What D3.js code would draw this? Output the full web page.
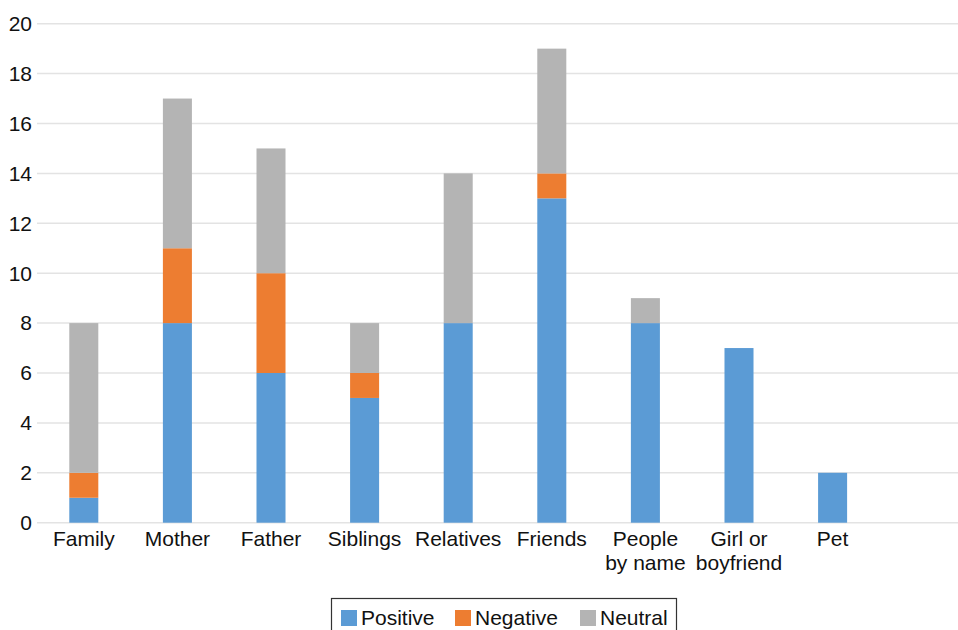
<!DOCTYPE html>
<html><head><meta charset="utf-8">
<script src="https://cdn.jsdelivr.net/npm/d3@7"></script>
<style>body{margin:0;background:#fff}svg{display:block;font-family:"Liberation Sans",Arial,sans-serif}</style>
</head><body><svg id="c" width="958" height="630"></svg>
<script>
const categories = ["Family","Mother","Father","Siblings","Relatives","Friends","People\nby name","Girl or\nboyfriend","Pet",""];
const positive = [1,8,6,5,8,13,8,7,2,0];
const negative = [1,3,4,1,0,1,0,0,0,0];
const neutral  = [6,6,5,2,6,5,1,0,0,0];
const seriesNames = ["Positive","Negative","Neutral"];
const colors = ["#5b9bd5","#ed7d31","#b4b4b4"];
const yTicks = [0,2,4,6,8,10,12,14,16,18,20];

const svg = d3.select("#c");
const x = d3.scaleBand().domain(categories).range([37, 973]).paddingInner(0.69).paddingOuter(0.345);
const y = d3.scaleLinear().domain([0,20]).range([522.7, 23.7]);

// gridlines
svg.append("g").selectAll("line").data(yTicks).join("line")
  .attr("x1",37).attr("x2",958).attr("y1",d=>y(d)).attr("y2",d=>y(d))
  .attr("stroke","#e3e3e3").attr("stroke-width",1.5);

// y labels
svg.append("g").selectAll("text").data(yTicks).join("text")
  .attr("x",32).attr("y",d=>y(d)).attr("dy","0.35em").attr("text-anchor","end")
  .attr("font-size",21).attr("fill","#111").text(d=>d);

// stacked data
const rows = categories.map((c,i)=>({cat:c, Positive:positive[i], Negative:negative[i], Neutral:neutral[i]}));
const stack = d3.stack().keys(seriesNames)(rows);
svg.append("g").selectAll("g").data(stack).join("g")
  .attr("fill",(d,i)=>colors[i])
  .selectAll("rect").data(d=>d.filter(p=>p[1]-p[0]>0)).join("rect")
  .attr("x",d=>x(d.data.cat)).attr("width",x.bandwidth())
  .attr("y",d=>y(d[1])).attr("height",d=>y(d[0])-y(d[1]));

// x labels
const xl = svg.append("g").selectAll("text").data(categories.filter(c=>c)).join("text")
  .attr("x",d=>x(d)+x.bandwidth()/2).attr("y",545.5).attr("text-anchor","middle")
  .attr("font-size",21).attr("fill","#111");
xl.selectAll("tspan").data(d=>d.split("\n")).join("tspan")
  .attr("x",function(){return this.parentNode.getAttribute("x");})
  .attr("dy",(d,i)=>i?24.5:0).text(d=>d);

// legend
const lg = svg.append("g");
lg.append("rect").attr("x",331.5).attr("y",598.5).attr("width",345).attr("height",45)
  .attr("fill","#fff").attr("stroke","#333").attr("stroke-width",1.2);
const legX = [341, 455, 580];
seriesNames.forEach((s,i)=>{
  lg.append("rect").attr("x",legX[i]).attr("y",610).attr("width",16).attr("height",16).attr("fill",colors[i]);
  lg.append("text").attr("x",legX[i]+20).attr("y",625).attr("font-size",21).attr("fill","#111").text(s);
});
</script></body></html>
